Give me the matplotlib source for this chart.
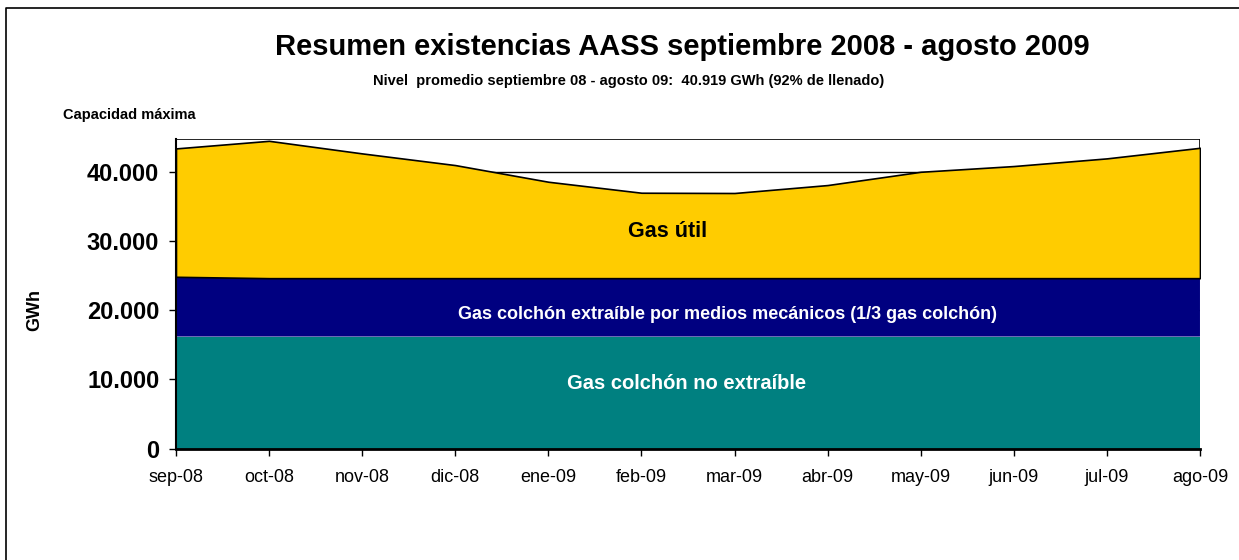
import numpy as np
import matplotlib.pyplot as plt
from matplotlib.lines import Line2D

plt.rcParams['font.family'] = ['Liberation Sans', 'DejaVu Sans']

# datos (GWh)
meses = ['sep-08', 'oct-08', 'nov-08', 'dic-08', 'ene-09', 'feb-09',
         'mar-09', 'abr-09', 'may-09', 'jun-09', 'jul-09', 'ago-09']
colchon_no_extraible = [16200] * 12
colchon_extraible = [8650, 8450, 8450, 8450, 8450, 8450,
                     8450, 8450, 8450, 8450, 8450, 8450]
gas_util = [18570, 19870, 18050, 16360, 13950, 12360,
            12320, 13470, 15390, 16220, 17330, 18860]
capacidad_maxima = 44800

x = np.arange(len(meses))
base1 = np.array(colchon_no_extraible)
base2 = base1 + np.array(colchon_extraible)
top = base2 + np.array(gas_util)

fig = plt.figure(figsize=(12.39, 5.6), dpi=100)
ax = fig.add_axes([0.142, 0.199, 0.8265, 0.553])

# capacidad maxima (fondo blanco con borde)
ax.fill_between(x, 0, capacidad_maxima, facecolor='white', edgecolor='none', zorder=1)
ax.plot([x[0], x[0], x[-1], x[-1]],
        [top[0], capacidad_maxima, capacidad_maxima, top[-1]],
        color='black', lw=1.2, zorder=3)

ax.fill_between(x, 0, base1, facecolor='#008080', edgecolor='none', zorder=2)
ax.fill_between(x, base1, base2, facecolor='#000080', edgecolor='none', zorder=2)
ax.fill_between(x, base2, top, facecolor='#FFCC00', edgecolor='black', lw=1.2, zorder=2)

ax.set_xlim(x[0], x[-1])
ax.set_ylim(0, capacidad_maxima)
ax.set_yticks([0, 10000, 20000, 30000, 40000])
ax.set_yticklabels(['0', '10.000', '20.000', '30.000', '40.000'],
                   fontsize=17, fontweight='bold')
ax.set_xticks(x)
ax.set_xticklabels(meses, fontsize=13)
ax.tick_params(axis='both', direction='out', length=5, width=1, colors='black')
ax.tick_params(axis='x', pad=10)
ax.tick_params(axis='y', pad=7)
ax.grid(axis='y', color='black', lw=1)
ax.set_axisbelow('line')

for s in ['top', 'right']:
    ax.spines[s].set_visible(False)
ax.spines['left'].set_linewidth(1.5)
ax.spines['bottom'].set_linewidth(2)
ax.spines['left'].set_zorder(4)
ax.spines['bottom'].set_zorder(4)

fig.text(35 / 1239, 1 - 310 / 560, 'GWh', rotation=90, ha='center', va='center',
         fontsize=13, fontweight='bold')

ax.text(5.285, 31470, 'Gas útil', ha='center', va='center',
        fontsize=15.5, fontweight='bold', color='black', zorder=5)
ax.text(5.925, 19460, 'Gas colchón extraíble por medios mecánicos (1/3 gas colchón)',
        ha='center', va='center', fontsize=13, fontweight='bold', color='white', zorder=5)
ax.text(5.48, 9475, 'Gas colchón no extraíble', ha='center', va='center',
        fontsize=14.5, fontweight='bold', color='white', zorder=5)

fig.text(682 / 1239, 1 - 47 / 560, 'Resumen existencias AASS septiembre 2008 - agosto 2009',
         ha='center', va='center', fontsize=21, fontweight='bold')
fig.text(629 / 1239, 1 - 81 / 560,
         'Nivel  promedio septiembre 08 - agosto 09:  40.919 GWh (92% de llenado)',
         ha='center', va='center', fontsize=10.5, fontweight='bold')
fig.text(63 / 1239, 1 - 115 / 560, 'Capacidad máxima', ha='left', va='center',
         fontsize=10.5, fontweight='bold')

# marco del grafico
fig.add_artist(Line2D([6 / 1239, 6 / 1239, 1.0], [0.0, 1 - 8 / 560, 1 - 8 / 560],
                      transform=fig.transFigure, color='black', lw=1.2))

plt.savefig('out.png', dpi=100)
